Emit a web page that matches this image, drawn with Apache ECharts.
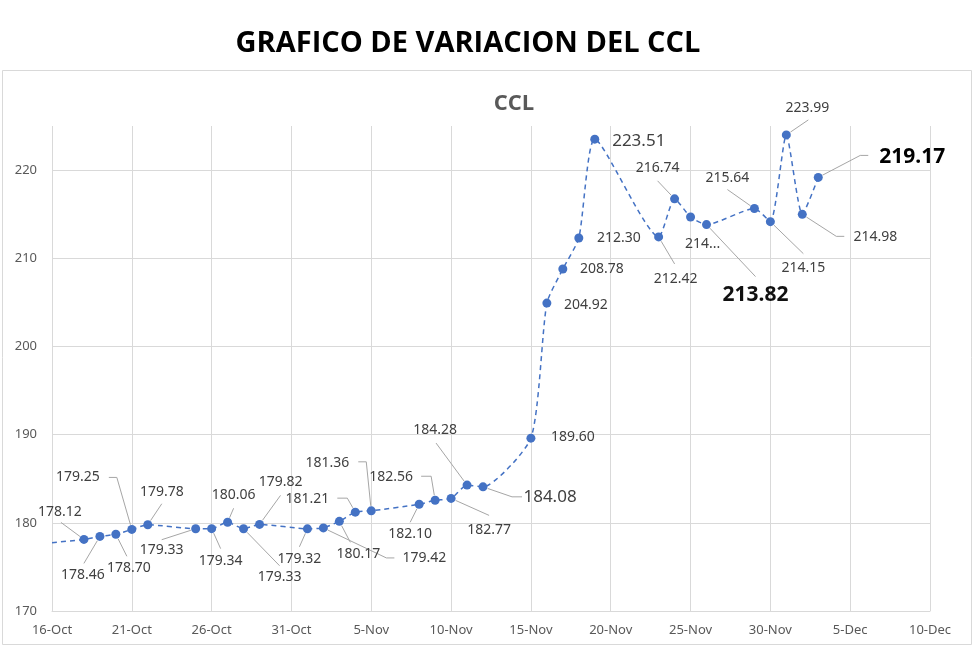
<!DOCTYPE html>
<html>
<head>
<meta charset="utf-8">
<script src="https://cdn.jsdelivr.net/npm/echarts@6/dist/echarts.min.js"></script>
<style>
html, body { margin: 0; padding: 0; background: #fff; }
#ccl { width: 980px; height: 646px; }
</style>
</head>
<body>
<div id="ccl"></div>
<script>
// cotizaciones del CCL (2021)
const fechas = [
  '2021-10-16', '2021-10-18', '2021-10-19', '2021-10-20', '2021-10-21', '2021-10-22',
  '2021-10-25', '2021-10-26', '2021-10-27', '2021-10-28', '2021-10-29',
  '2021-11-01', '2021-11-02', '2021-11-03', '2021-11-04', '2021-11-05',
  '2021-11-08', '2021-11-09', '2021-11-10', '2021-11-11', '2021-11-12',
  '2021-11-15', '2021-11-16', '2021-11-17', '2021-11-18', '2021-11-19',
  '2021-11-23', '2021-11-24', '2021-11-25', '2021-11-26',
  '2021-11-29', '2021-11-30', '2021-12-01', '2021-12-02', '2021-12-03'
];
const valores = [
  177.75, 178.12, 178.46, 178.70, 179.25, 179.78,
  179.33, 179.34, 180.06, 179.33, 179.82,
  179.32, 179.42, 180.17, 181.21, 181.36,
  182.10, 182.56, 182.77, 184.28, 184.08,
  189.60, 204.92, 208.78, 212.30, 223.51,
  212.42, 216.74, 214.68, 213.82,
  215.64, 214.15, 223.99, 214.98, 219.17
];
const etiquetasX = ['16-Oct', '21-Oct', '26-Oct', '31-Oct', '5-Nov', '10-Nov',
  '15-Nov', '20-Nov', '25-Nov', '30-Nov', '5-Dec', '10-Dec'];
// etiqueta recortada como en el original
const textosEtiqueta = { 28: '214...' };

// ubicacion de cada etiqueta respecto a su punto: [dx, dy, lineaX, lineaY, cola]
const posEtiquetas = [
  null,
  [-24, -27, -23, -17, 0],
  [-17, 39, -16, 27, 0],
  [13, 34, 11, 22, 0],
  [-54, -52, -15, -52, -8],
  [14, -33, 14, -21, 0],
  [-34, 21, -34, 11, 0],
  [9, 32, 9, 20, 0],
  [6, -27, 6, -14, 0],
  [36, 48, 36, 37, 0],
  [21, -42, 21, -29, 0],
  [-8, 30, -8, 18, 0],
  [101, 30, 63, 30, 8],
  [19, 33, 11, 21, 0],
  [-48, -13, -8, -14, -10],
  [-44, -48, -5, -49, -8],
  [-9, 30, -9, 18, 0],
  [-44, -23, -4, -24, -10],
  [38, 32, 38, 17, 0],
  [-32, -55, -31, -42, 0],
  [67, 10, 29, 10, 10],
  [42, -1, null],
  [39, 2, null],
  [39, 0, null],
  [40, 0, null],
  [44, 2, null],
  [17, 42, 16, 27, 0],
  [-17, -31, -17, -18, 0],
  [12, 27, null],
  [49, 70, 49, 52, 0],
  [-27, -31, -27, -19, 0],
  [33, 46, 33, 32, 0],
  [21, -27, 22, -15, 0],
  [73, 23, 34, 22, 8],
  [94, -20, 42, -22, 8]
];

const inicio = Date.parse('2021-10-16');
const dia = 24 * 3600 * 1000;
const dias = fechas.map(f => (Date.parse(f) - inicio) / dia);

const puntos = dias.map((d, i) => {
  const item = { value: [d, valores[i]] };
  if (!posEtiquetas[i]) {
    item.symbol = 'none';
    item.label = { show: false };
  }
  return item;
});
// etiquetas destacadas
puntos[20].label = { fontSize: 17 };
puntos[25].label = { fontSize: 17 };
puntos[29].label = { fontSize: 21, fontWeight: 'bold', color: '#111' };
puntos[34].label = { fontSize: 21, fontWeight: 'bold', color: '#000' };

let myChart = echarts.init(document.getElementById('ccl'));

myChart.setOption({
  animation: false,
  backgroundColor: '#fff',
  textStyle: { fontFamily: 'Noto Sans' },
  grid: { left: 52, right: 50, top: 126, bottom: 35 },
  graphic: [
    {
      type: 'rect',
      shape: { x: 2.5, y: 70.5, width: 969, height: 574 },
      style: { fill: 'none', stroke: '#d9d9d9', lineWidth: 1 }
    },
    {
      type: 'text',
      x: 468, y: 44,
      style: {
        text: 'GRAFICO DE VARIACION DEL CCL',
        align: 'center', verticalAlign: 'middle',
        font: 'bold 29px "Open Sans"', fill: '#000'
      }
    },
    {
      type: 'text',
      x: 514, y: 104,
      style: {
        text: 'CCL',
        align: 'center', verticalAlign: 'middle',
        font: 'bold 22px "Open Sans"', fill: '#595959'
      }
    }
  ],
  xAxis: {
    type: 'value',
    min: 0,
    max: 55,
    interval: 5,
    axisLine: { show: true, lineStyle: { color: '#d9d9d9', width: 1 } },
    axisTick: { show: false },
    splitLine: { show: true, lineStyle: { color: '#d9d9d9', width: 1 } },
    axisLabel: {
      color: '#595959',
      fontSize: 13,
      margin: 13,
      formatter: v => etiquetasX[Math.round(v / 5)]
    }
  },
  yAxis: {
    type: 'value',
    min: 170,
    max: 225,
    interval: 10,
    axisLine: { show: false },
    axisTick: { show: false },
    splitLine: { show: true, showMaxLine: false, lineStyle: { color: '#d9d9d9', width: 1 } },
    axisLabel: { color: '#595959', fontSize: 13, margin: 15, showMaxLabel: false }
  },
  series: [
    {
      // lineas guia de las etiquetas
      type: 'custom',
      silent: true,
      z: 1,
      data: puntos.map(p => p.value),
      renderItem: function (params, api) {
        const pos = posEtiquetas[params.dataIndex];
        if (!pos || pos[2] === null) return null;
        const c = api.coord([api.value(0), api.value(1)]);
        const len = Math.sqrt(pos[2] * pos[2] + pos[3] * pos[3]);
        const ex = c[0] + pos[2], ey = c[1] + pos[3];
        return {
          type: 'polyline',
          shape: {
            points: [
              [c[0] + pos[2] / len * 5, c[1] + pos[3] / len * 5],
              [ex, ey],
              [ex + pos[4], ey]
            ]
          },
          style: { fill: null, stroke: '#a6a6a6', lineWidth: 1 }
        };
      }
    },
    {
      name: 'CCL',
      type: 'line',
      z: 2,
      data: puntos,
      smooth: 0.2,
      clip: false,
      symbol: 'circle',
      symbolSize: 9,
      itemStyle: { color: '#4472c4' },
      lineStyle: { color: '#4472c4', width: 1.5, type: [5, 4] },
      label: {
        show: true,
        color: '#404040',
        fontSize: 14,
        formatter: p => textosEtiqueta[p.dataIndex] || p.value[1].toFixed(2)
      },
      labelLayout: function (p) {
        const pos = posEtiquetas[p.dataIndex];
        if (!pos) return {};
        const cx = p.rect.x + p.rect.width / 2;
        const cy = p.rect.y + p.rect.height / 2;
        return { x: cx + pos[0], y: cy + pos[1], align: 'center', verticalAlign: 'middle' };
      }
    }
  ]
});

window.addEventListener('resize', () => {
  myChart.resize();
});
</script>
</body>
</html>
